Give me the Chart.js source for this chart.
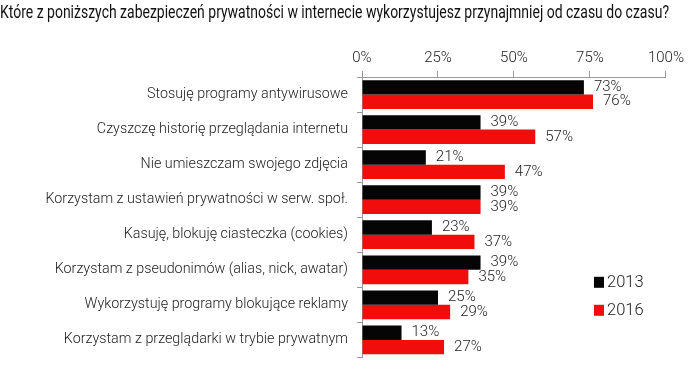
<!DOCTYPE html>
<html>
<head>
<meta charset="utf-8">
<script src="https://cdn.jsdelivr.net/npm/chart.js@4"></script>
<style>
  body { margin: 0; background: #fff; }
</style>
</head>
<body>
<canvas id="chart" width="688" height="375"></canvas>
<script>
const titleText = 'Które z poniższych zabezpieczeń prywatności w internecie wykorzystujesz przynajmniej od czasu do czasu?';
const categories = [
    'Stosuję programy antywirusowe',
    'Czyszczę historię przeglądania internetu',
    'Nie umieszczam swojego zdjęcia',
    'Korzystam z ustawień prywatności w serw. społ.',
    'Kasuję, blokuję ciasteczka (cookies)',
    'Korzystam z pseudonimów (alias, nick, awatar)',
    'Wykorzystuję programy blokujące reklamy',
    'Korzystam z przeglądarki w trybie prywatnym'
];
const values2013 = [73, 39, 21, 39, 23, 39, 25, 13];
const values2016 = [76, 57, 47, 39, 37, 35, 29, 27];
const xTicks = [0, 25, 50, 75, 100];

const FONT = 'Roboto, "Liberation Sans", sans-serif';

// value labels at the end of each bar
const valueLabels = {
    id: 'valueLabels',
    afterDatasetsDraw(chart) {
        const ctx = chart.ctx;
        ctx.save();
        ctx.font = '300 15px ' + FONT;
        ctx.fillStyle = '#222';
        ctx.textBaseline = 'middle';
        ctx.textAlign = 'left';
        chart.data.datasets.forEach((ds, i) => {
            chart.getDatasetMeta(i).data.forEach((bar, j) => {
                ctx.fillText(ds.data[j] + '%', bar.x + 10, bar.y);
            });
        });
        ctx.restore();
    }
};

// legend inside the plot, lower right
const sideLegend = {
    id: 'sideLegend',
    afterDraw(chart) {
        const ctx = chart.ctx;
        const x = chart.scales.x.getPixelForValue(75) + 4;
        const y0 = chart.scales.y.getPixelForValue(5) + 12;
        ctx.save();
        ctx.font = '300 16.5px ' + FONT;
        ctx.textBaseline = 'middle';
        chart.data.datasets.forEach((ds, i) => {
            const y = y0 + i * 28;
            ctx.fillStyle = ds.backgroundColor;
            ctx.fillRect(x, y - 5, 10, 11);
            ctx.fillStyle = '#222';
            ctx.fillText(ds.label, x + 13, y + 1);
        });
        ctx.restore();
    }
};

new Chart(document.getElementById('chart'), {
    type: 'bar',
    data: {
        labels: categories,
        datasets: [
            { label: '2013', data: values2013, backgroundColor: '#050505' },
            { label: '2016', data: values2016, backgroundColor: '#f20d0d' }
        ]
    },
    options: {
        indexAxis: 'y',
        responsive: false,
        animation: false,
        layout: { padding: { left: 0, right: 19, top: 0, bottom: 4 } },
        datasets: { bar: { categoryPercentage: 0.82, barPercentage: 1 } },
        plugins: {
            legend: { display: false },
            tooltip: { enabled: false },
            title: {
                display: true,
                text: titleText,
                align: 'start',
                color: '#111',
                font: { family: '"Liberation Sans Narrow", ' + FONT, size: 17.6, weight: 'normal', lineHeight: 1.2 },
                padding: { top: 3, bottom: 0 }
            }
        },
        scales: {
            x: {
                position: 'top',
                min: 0,
                max: 100,
                afterBuildTicks(scale) {
                    scale.ticks = xTicks.map(v => ({ value: v }));
                },
                afterFit(scale) { scale.height = 52.9; },
                ticks: {
                    callback: v => v + '%',
                    color: '#222',
                    font: { family: FONT, size: 15, weight: 300 },
                    padding: 4,
                    maxRotation: 0
                },
                grid: { drawOnChartArea: false, tickLength: 6, color: '#999' },
                border: { color: '#999' }
            },
            y: {
                afterFit(scale) { scale.width = 362; },
                ticks: {
                    color: '#222',
                    font: { family: FONT, size: 14.3, weight: 300 },
                    padding: 9
                },
                grid: { drawOnChartArea: false, tickLength: 5, color: '#999' },
                border: { color: '#999' }
            }
        }
    },
    plugins: [valueLabels, sideLegend]
});
</script>
</body>
</html>
